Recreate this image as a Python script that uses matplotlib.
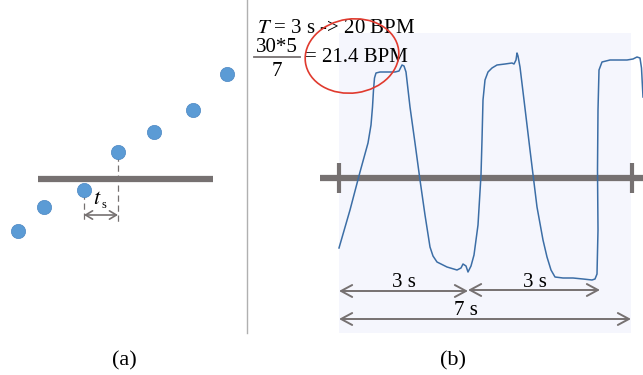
import matplotlib.pyplot as plt
import numpy as np
from matplotlib.patches import Ellipse, Rectangle, FancyArrowPatch

# panel (a): sample points (pixel coordinates of the original picture)
dot_x = [18, 44, 84, 118, 154, 193, 227]
dot_y = [231, 207, 190, 152, 132, 110, 74]

# panel (b): traced breathing signal
sig_x = [339, 350, 360, 368, 371, 372.5, 373.5, 374.5, 376, 380, 388, 395, 399, 402, 404, 406, 410,
         415, 420, 425, 430, 433, 437, 447, 457, 461, 463, 466, 468, 471, 474, 478, 481, 482, 483,
         485, 488, 492, 497, 505, 512, 514, 516, 517, 518, 520, 524, 530, 537, 543, 547, 551,
         555, 563, 573, 583, 592, 595, 597, 598, 597.5, 598, 599, 602, 610, 618, 627, 633,
         637, 640, 641.5, 643]
sig_y = [248, 210, 172, 143, 125, 107, 90, 78, 73, 72, 72, 72, 71, 65, 66, 72, 107,
         143, 180, 215, 247, 256, 262, 267, 270, 268, 264, 266, 272, 266, 255, 225, 175, 140, 100,
         80, 72, 68, 65, 64, 63, 64, 60, 53, 56, 67, 100, 150, 207, 240, 257, 270,
         277, 278, 278, 279, 280, 279, 274, 230, 170, 110, 70, 62, 60, 60, 60, 59,
         57, 58, 68, 97]

gray = '#767171'
blue = '#3c6ea6'
serif = ['Liberation Serif', 'DejaVu Serif']

fig = plt.figure(figsize=(6.43, 3.75), dpi=100)
ax = fig.add_axes([0, 0, 1, 1])
ax.set_xlim(0, 643)
ax.set_ylim(375, 0)
ax.axis('off')

# ---- (a)
ax.plot([38, 213], [179, 179], color=gray, lw=4.5, solid_capstyle='butt', zorder=2)
ax.plot([84, 84], [193, 222], color=gray, lw=0.9, ls=(0, (5, 3)))
ax.plot([118, 118], [155, 222], color=gray, lw=0.9, ls=(0, (5, 3)))
ax.add_patch(FancyArrowPatch((84, 215), (118, 215), arrowstyle='<->,head_length=5,head_width=3',
                             color=gray, lw=1.2, shrinkA=0, shrinkB=0))
ax.scatter(dot_x, dot_y, s=105, color='#5b9bd5', edgecolors='#4a86c2', lw=0.5, zorder=3)
ax.text(93, 204, r'$t$', fontsize=16, family=serif, ha='left', va='baseline', math_fontfamily='stix')
ax.text(101, 208, 's', fontsize=9, family=serif, ha='left', va='baseline')
ax.text(124, 365, '(a)', fontsize=16, family=serif, ha='center', va='baseline')

# separator
ax.plot([247, 247], [0, 333], color='#b0b0b0', lw=1)

# ---- (b)
ax.add_patch(Rectangle((339, 33), 292, 300, color='#f5f6fd', zorder=0, lw=0))
ax.plot([320, 643], [178, 178], color=gray, lw=4.5, solid_capstyle='butt', zorder=2)
for tx in [339, 632]:
    ax.plot([tx, tx], [163, 193], color=gray, lw=3, solid_capstyle='butt', zorder=2)
ax.plot(sig_x, sig_y, color=blue, lw=1.1, zorder=3)

arrow_kw = dict(arrowstyle='<->,head_length=8,head_width=4.3', color=gray, lw=1.4,
                shrinkA=0, shrinkB=0, zorder=3)
ax.add_patch(FancyArrowPatch((339, 291), (468, 291), **arrow_kw))
ax.add_patch(FancyArrowPatch((468, 290), (600, 290), **arrow_kw))
ax.add_patch(FancyArrowPatch((339, 319), (631, 319), **arrow_kw))
ax.text(404, 287, '3 s', fontsize=15, family=serif, ha='center', va='baseline')
ax.text(535, 287, '3 s', fontsize=15, family=serif, ha='center', va='baseline')
ax.text(466, 315, '7 s', fontsize=15, family=serif, ha='center', va='baseline')
ax.text(453, 365, '(b)', fontsize=16, family=serif, ha='center', va='baseline')

# formula text
ax.text(257, 33, r'$T$' + ' = 3 s -> 20 BPM', fontsize=15, family=serif, ha='left',
        va='baseline', math_fontfamily='stix')
ax.text(277, 52, '30*5', fontsize=15, family=serif, ha='center', va='baseline')
ax.plot([254, 300], [57, 57], color=gray, lw=1.3)
ax.text(277, 76, '7', fontsize=15, family=serif, ha='center', va='baseline')
ax.text(305, 62, '= 21.4 BPM', fontsize=15, family=serif, ha='left', va='baseline')
ax.add_patch(Ellipse((352, 56), 94, 74, angle=-8, fill=False, ec='#e03a2e', lw=1.2, zorder=4))

fig.savefig('out.png', dpi=100)
